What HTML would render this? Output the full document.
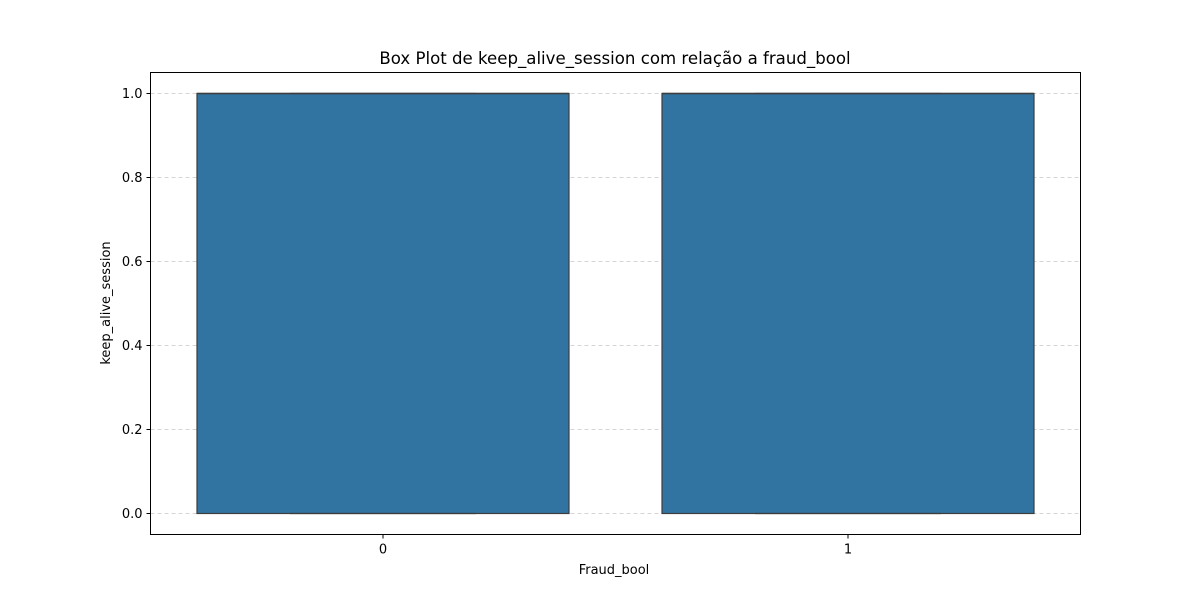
<!DOCTYPE html>
<html><head><meta charset="utf-8"><style>body{margin:0;background:#fff}svg{display:block;font-family:"DejaVu Sans","Liberation Sans",sans-serif}</style></head>
<body>
<svg id="chart" width="1200" height="600" xmlns="http://www.w3.org/2000/svg">
<rect width="1200" height="600" fill="#fff"/>
<text x="615" y="64" text-anchor="middle" font-size="16.6">Box Plot de keep_alive_session com relação a fraud_bool</text>
<g id="grid"></g><g id="boxes"></g><g id="axes"></g>
<rect x="150.5" y="72.5" width="930" height="462" fill="none" stroke="#000" stroke-width="1"/>
<text x="614" y="574" text-anchor="middle" font-size="13">Fraud_bool</text>
<text transform="translate(110,303) rotate(-90)" text-anchor="middle" font-size="13">keep_alive_session</text>
</svg>
<script>
const categories=["0","1"];
const q1=[0,0];
const q3=[1,1];
const medians=[1,1];
const whiskLo=[0,0];
const whiskHi=[1,1];
const yTicks=[0,0.2,0.4,0.6,0.8,1.0];
const yTickLabels=["0.0","0.2","0.4","0.6","0.8","1.0"];
const NS="http://www.w3.org/2000/svg";
const L=150.5,R=1080.5,T=72.5,B=534.5,yMin=-0.05,yMax=1.05;
const y=v=>B-(v-yMin)/(yMax-yMin)*(B-T);
const step=(R-L)/categories.length;
const x=i=>L+step*(i+0.5);
function mk(tag,attrs,parent){const e=document.createElementNS(NS,tag);for(const k in attrs)e.setAttribute(k,attrs[k]);document.getElementById(parent).appendChild(e);return e;}
yTicks.forEach((t,i)=>{
 const g=mk('line',{x1:L,x2:R,y1:y(t),y2:y(t),stroke:'#c8c8c8','stroke-dasharray':'4,3','stroke-width':0.8},'grid');
 
 
 const tk=mk('line',{x1:L-4,x2:L,y1:y(t),y2:y(t),stroke:'#000'},'axes');
 
 
 const tx=mk('text',{x:L-8,y:y(t)+4.5,'text-anchor':'end','font-size':13},'axes');
 tx.textContent=yTickLabels[i];
 
 
});
categories.forEach((c,i)=>{
 const cx=x(i),w=step*0.8,cw=step*0.4;
 const bx=mk('rect',{x:cx-w/2,y:y(q3[i]),width:w,height:y(q1[i])-y(q3[i]),fill:'#3274a1',stroke:'#3d3d3d','stroke-width':1.2},'boxes');
 
 
 [[whiskLo[i]],[whiskHi[i]]].forEach(v=>{
  const cap=mk('line',{x1:cx-cw/2,x2:cx+cw/2,y1:y(v[0]),y2:y(v[0]),stroke:'#3d3d3d','stroke-width':1.2},'boxes');
  
  
 });
 const md=mk('line',{x1:cx-w/2,x2:cx+w/2,y1:y(medians[i]),y2:y(medians[i]),stroke:'#3d3d3d','stroke-width':1.5},'boxes');
 
 
 const tk=mk('line',{x1:cx,x2:cx,y1:B,y2:B+4,stroke:'#000'},'axes');
 
 
 const tx=mk('text',{x:cx,y:B+19,'text-anchor':'middle','font-size':13},'axes');
 tx.textContent=c;
 
 
});
</script>
</body></html>
